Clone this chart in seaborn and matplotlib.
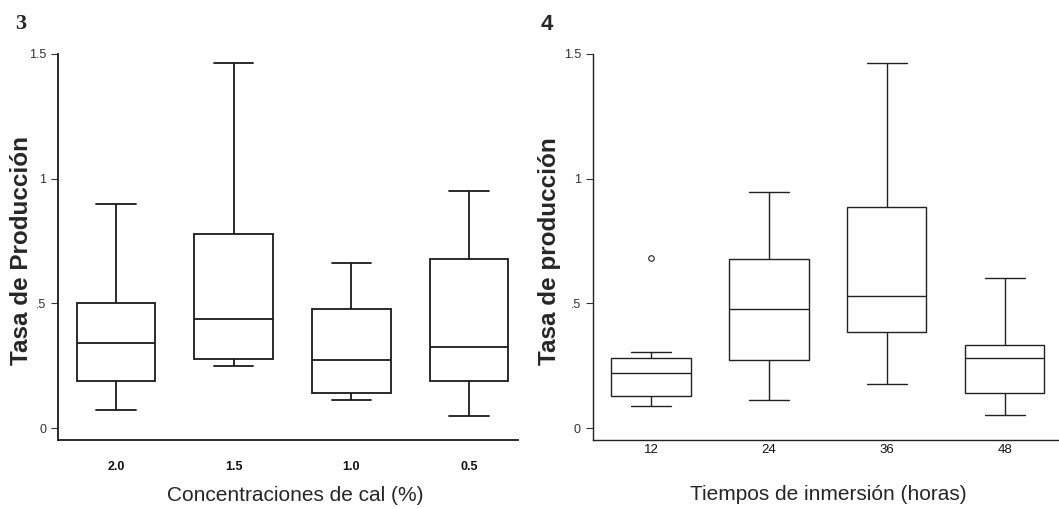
import matplotlib
matplotlib.use("Agg")
import matplotlib.pyplot as plt
import pandas as pd
import seaborn as sns

# panel 3: lime concentration (five-number summaries)
LIME_LEVELS = ["2.0", "1.5", "1.0", "0.5"]
lime_low = [0.072, 0.249, 0.111, 0.049]
lime_q1 = [0.190, 0.277, 0.139, 0.190]
lime_median = [0.340, 0.438, 0.273, 0.326]
lime_q3 = [0.500, 0.777, 0.476, 0.679]
lime_high = [0.900, 1.463, 0.660, 0.949]
lime_outliers = [[], [], [], []]

# panel 4: immersion time in hours
HOURS = ["12", "24", "36", "48"]
hours_low = [0.089, 0.111, 0.178, 0.051]
hours_q1 = [0.128, 0.271, 0.385, 0.139]
hours_median = [0.219, 0.479, 0.531, 0.281]
hours_q3 = [0.281, 0.679, 0.885, 0.332]
hours_high = [0.304, 0.948, 1.463, 0.602]
hours_outliers = [[0.683], [], [], []]

Y_TICKS = [0, 0.5, 1, 1.5]
Y_TICK_LABELS = ["0", ".5", "1", "1.5"]

ARIAL = ["Liberation Sans", "DejaVu Sans"]


def build_frame(groups, low, q1, med, q3, high, outliers):
    # sample whose quartiles / whiskers reproduce the summary exactly
    rows = []
    for g, a, b, c, d, e, out in zip(groups, low, q1, med, q3, high, outliers):
        for v in [a, b, b, c, c, d, d, e] + list(out):
            rows.append({"group": g, "rate": v})
    return pd.DataFrame(rows)


def draw_panel(ax, df, order, lw, line_color):
    sns.boxplot(
        data=df,
        x="group",
        y="rate",
        order=order,
        width=0.67,
        color="white",
        linecolor=line_color,
        linewidth=lw,
        fliersize=4,
        flierprops=dict(marker="o", markerfacecolor="white",
                        markeredgecolor=line_color, markeredgewidth=0.8),
        ax=ax,
    )
    ax.set_ylim(-0.048, 1.5)
    ax.set_yticks(Y_TICKS)
    ax.set_yticklabels(Y_TICK_LABELS)
    sns.despine(ax=ax)
    for side in ("left", "bottom"):
        ax.spines[side].set_color(line_color)
        ax.spines[side].set_linewidth(lw)
    ax.tick_params(axis="y", length=5, width=0.8, pad=3.5, colors="#333333",
                   labelsize=9)
    ax.tick_params(axis="x", length=0)


sns.set_style("ticks")
plt.rcParams["font.family"] = ARIAL

fig = plt.figure(figsize=(10.59, 5.09), dpi=100)

# left panel
ax1 = fig.add_axes([58 / 1059, 1 - 440 / 509, 460 / 1059, 386 / 509])
lime_df = build_frame(LIME_LEVELS, lime_low, lime_q1, lime_median, lime_q3,
                      lime_high, lime_outliers)
draw_panel(ax1, lime_df, LIME_LEVELS, 1.3, "#1a1a1a")
ax1.set_xlim(-0.493, 3.416)
ax1.tick_params(axis="x", pad=15, labelsize=9, labelcolor="#111111")
for lab in ax1.get_xticklabels():
    lab.set_fontweight("bold")
ax1.set_xlabel("Concentraciones de cal (%)", fontsize=15,
               va="center", ha="center")
ax1.xaxis.set_label_coords(0.515, -0.145)
ax1.set_ylabel("Tasa de Producción", fontsize=17.5, fontweight="bold",
               va="center", ha="center")
ax1.yaxis.set_label_coords(-0.080, 0.49)

# right panel
ax2 = fig.add_axes([592.7 / 1059, 1 - 440 / 509, 466.3 / 1059, 386 / 509])
hours_df = build_frame(HOURS, hours_low, hours_q1, hours_median, hours_q3,
                       hours_high, hours_outliers)
draw_panel(ax2, hours_df, HOURS, 1.0, "#222222")
ax2.set_xlim(-0.494, 3.458)
ax2.tick_params(axis="x", pad=3, labelsize=9.5, labelcolor="#111111")
ax2.set_xlabel("Tiempos de inmersión (horas)", fontsize=15,
               va="center", ha="center")
ax2.xaxis.set_label_coords(0.506, -0.142)
ax2.set_ylabel("Tasa de producción", fontsize=17.5, fontweight="bold",
               va="center", ha="center")
ax2.yaxis.set_label_coords(-0.0916, 0.49)

# panel numbers
fig.text(21 / 1059, 1 - 24 / 509, "3", fontsize=16, fontweight="bold",
         family=["Liberation Serif", "DejaVu Serif"], ha="center", va="center")
fig.text(547 / 1059, 1 - 24 / 509, "4", fontsize=16, fontweight="bold",
         ha="center", va="center")

fig.savefig("out.png", dpi=100)
